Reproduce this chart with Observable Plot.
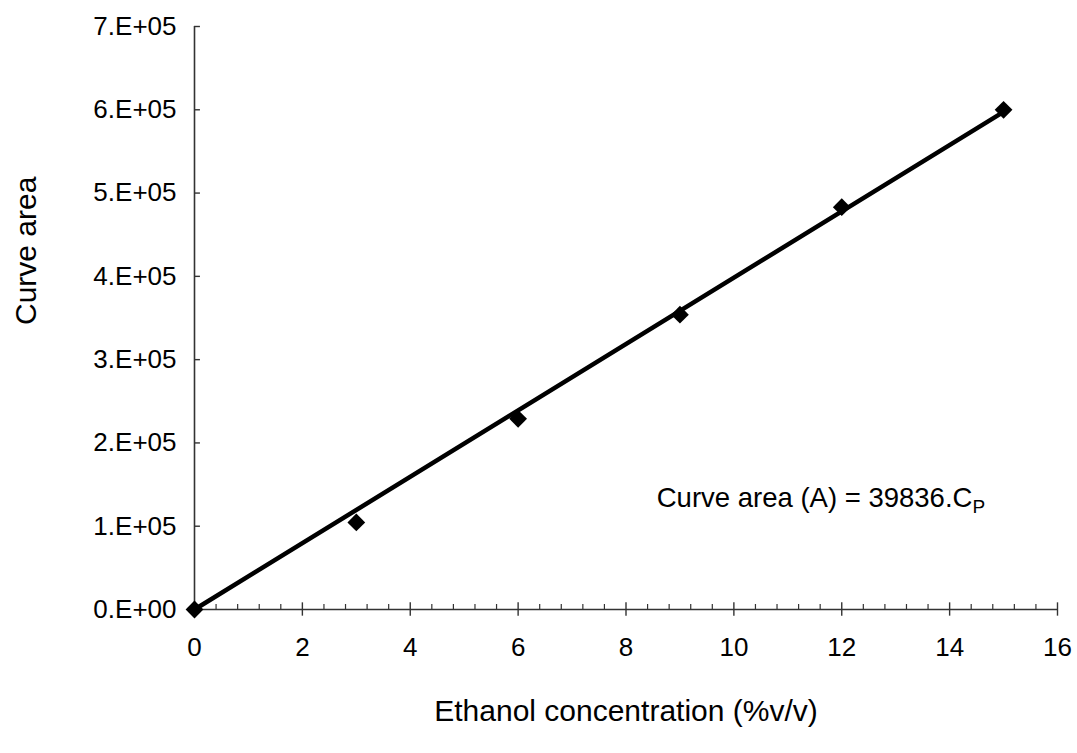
<!DOCTYPE html>
<html>
<head>
<meta charset="utf-8">
<script src="https://cdn.jsdelivr.net/npm/d3@7"></script>
<script src="https://cdn.jsdelivr.net/npm/@observablehq/plot@0.6"></script>
<style>
  html, body { margin: 0; padding: 0; background: #fff; }
  #chart svg { font-family: "Liberation Sans", Arial, sans-serif; }
</style>
</head>
<body>
<div id="chart"></div>
<script>
// Data
const concentration = [0, 3, 6, 9, 12, 15];
const curveArea = [0, 104500, 229000, 354000, 483000, 600000];
const fitSlope = 39836;
const fitRange = [0, 15];
const xMajorTicks = [0, 2, 4, 6, 8, 10, 12, 14, 16];
const xMinorTicks = d3.range(0, 16.001, 0.4).filter(v => Math.abs(v / 2 - Math.round(v / 2)) > 1e-6);
const yTicks = [0, 100000, 200000, 300000, 400000, 500000, 600000, 700000];
const yTickLabels = ["0.E+00", "1.E+05", "2.E+05", "3.E+05", "4.E+05", "5.E+05", "6.E+05", "7.E+05"];
const xTitle = "Ethanol concentration (%v/v)";
const yTitle = "Curve area";
const annotation = "Curve area (A) = 39836.C";
const annotationSub = "P";

const points = concentration.map((c, i) => ({x: c, y: curveArea[i]}));
const fitLine = fitRange.map(c => ({x: c, y: fitSlope * c}));

const axisColor = "#333";

const chart = Plot.plot({
  width: 1077,
  height: 753,
  marginLeft: 194,
  marginRight: 20,
  marginTop: 26,
  marginBottom: 144,
  style: {fontFamily: "'Liberation Sans', Arial, sans-serif", background: "#fff", color: "#000"},
  x: {domain: [0, 16], axis: null},
  y: {domain: [0, 700000], axis: null},
  marks: [
    // axis lines
    Plot.ruleX([0], {y1: 0, y2: 700000, stroke: axisColor, strokeWidth: 1.6}),
    Plot.ruleY([0], {x1: 0, x2: 16, stroke: axisColor, strokeWidth: 1.6}),
    // y ticks (inward)
    Plot.ruleY(yTicks, {x1: 0, x2: 0.11, stroke: axisColor, strokeWidth: 1.4}),
    // x major ticks (crossing)
    Plot.ruleX(xMajorTicks, {y1: -8000, y2: 8000, stroke: axisColor, strokeWidth: 1.4}),
    // x minor ticks (inward)
    Plot.ruleX(xMinorTicks, {y1: 0, y2: 6000, stroke: axisColor, strokeWidth: 1.2}),
    // tick labels
    Plot.axisX({ticks: xMajorTicks, tickSize: 0, tickPadding: 28, fontSize: 26, label: null, tickFormat: d => String(d)}),
    Plot.axisY({ticks: yTicks, tickSize: 0, tickPadding: 18, fontSize: 26, label: null,
      tickFormat: d => yTickLabels[yTicks.indexOf(d)]}),
    // titles
    Plot.text([xTitle], {frameAnchor: "bottom", dy: 111, fontSize: 30, fill: "#000"}),
    Plot.text([yTitle], {frameAnchor: "left", rotate: -90, dx: -168, dy: 7, fontSize: 30, fill: "#000"}),
    // fitted line
    Plot.line(fitLine, {x: "x", y: "y", stroke: "#000", strokeWidth: 4.5}),
    // data points
    Plot.dot(points, {x: "x", y: "y", symbol: "diamond2", r: 8, fill: "#000", stroke: "none"}),
    // annotation
    Plot.text([annotation], {x: 8.57, y: 134000, textAnchor: "start", fontSize: 27.5, fill: "#000", className: "annot"})
  ]
});

// Add subscript P to annotation
d3.select(chart).selectAll("g.annot text").append("tspan")
  .attr("font-size", 19)
  .attr("dy", "0.35em")
  .text(annotationSub);

document.getElementById("chart").appendChild(chart);
</script>
</body>
</html>
